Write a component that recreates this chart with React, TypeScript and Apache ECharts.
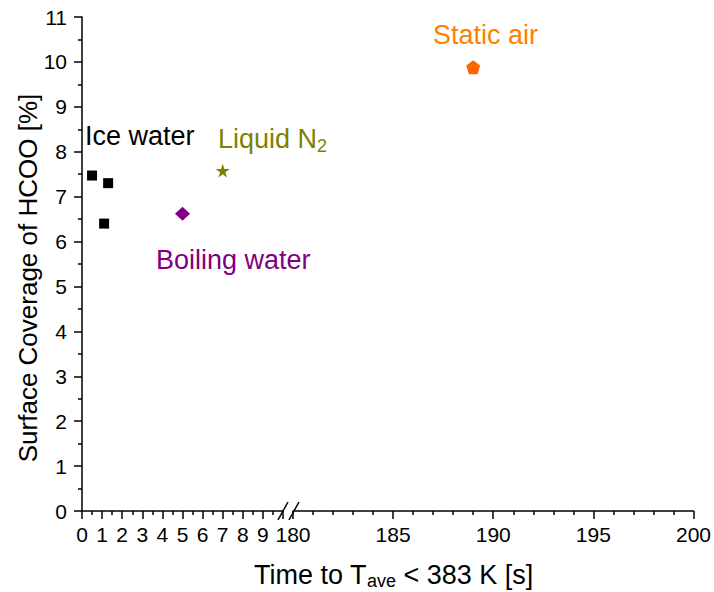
import React, { useEffect, useRef } from "react";
import * as echarts from "echarts";

// Data (x = time in s, y = surface coverage in %)
const iceWater: [number, number][] = [
  [0.5, 7.47],
  [1.3, 7.3],
  [1.1, 6.4],
];
const boilingWater: [number, number][] = [[5.0, 6.62]];
const liquidN2: [number, number][] = [[7.0, 7.58]];
const staticAir: [number, number][] = [[189.0, 9.88]];

const yTicks = [0, 1, 2, 3, 4, 5, 6, 7, 8, 9, 10, 11];
const xLeftRange = [0, 10];
const xRightRange = [180, 200];

const FONT = "Liberation Sans, Arial, sans-serif";
const STAR =
  "path://M50,0 L61,35 L98,35 L68,57 L79,91 L50,70 L21,91 L32,57 L2,35 L39,35 Z";
const PENTAGON = "path://M50,0 L100,38 L81,100 L19,100 L0,38 Z";

export default function App() {
  const ref = useRef<HTMLDivElement>(null);
  useEffect(() => {
    if (!ref.current) return;
    const chart = echarts.init(ref.current, undefined, { renderer: "svg" });
    const axisLine = { show: true, lineStyle: { color: "#000", width: 1.5 } };
    const axisTick = { show: true, length: 8, lineStyle: { color: "#000", width: 1.5 } };
    const minorTick = { show: true, length: 4, splitNumber: 2, lineStyle: { color: "#000", width: 1.5 } };
    const labelStyle = { color: "#000", fontSize: 21, fontFamily: FONT };
    chart.setOption({
      animation: false,
      backgroundColor: "#fff",
      grid: [
        { left: 82, top: 17, width: 201, bottom: 81 },
        { left: 293, top: 17, right: 19, bottom: 81 },
      ],
      xAxis: [
        {
          type: "value",
          gridIndex: 0,
          min: xLeftRange[0],
          max: xLeftRange[1],
          interval: 1,
          axisLine,
          axisTick,
          minorTick,
          splitLine: { show: false },
          axisLabel: {
            ...labelStyle,
            margin: 13,
            formatter: (v: number) => (v >= 10 ? "" : String(v)),
          },
        },
        {
          type: "value",
          gridIndex: 1,
          min: xRightRange[0],
          max: xRightRange[1],
          interval: 5,
          axisLine,
          axisTick,
          minorTick: { ...minorTick, splitNumber: 5 },
          splitLine: { show: false },
          axisLabel: { ...labelStyle, margin: 13 },
        },
      ],
      yAxis: [
        {
          type: "value",
          gridIndex: 0,
          min: yTicks[0],
          max: yTicks[yTicks.length - 1],
          interval: 1,
          axisLine,
          axisTick,
          minorTick,
          splitLine: { show: false },
          axisLabel: { ...labelStyle, margin: 15 },
        },
        {
          type: "value",
          gridIndex: 1,
          min: yTicks[0],
          max: yTicks[yTicks.length - 1],
          interval: 1,
          show: false,
        },
      ],
      series: [
        {
          type: "scatter",
          xAxisIndex: 0,
          yAxisIndex: 0,
          data: iceWater,
          symbol: "rect",
          symbolSize: 10,
          itemStyle: { color: "#000", opacity: 1 },
        },
        {
          type: "scatter",
          xAxisIndex: 0,
          yAxisIndex: 0,
          data: boilingWater,
          symbol: "diamond",
          symbolSize: [15, 14],
          itemStyle: { color: "#800080", opacity: 1 },
        },
        {
          type: "scatter",
          xAxisIndex: 0,
          yAxisIndex: 0,
          data: liquidN2,
          symbol: STAR,
          symbolSize: 14,
          itemStyle: { color: "#808000", opacity: 1 },
        },
        {
          type: "scatter",
          xAxisIndex: 1,
          yAxisIndex: 1,
          data: staticAir,
          symbol: PENTAGON,
          symbolSize: 14,
          itemStyle: { color: "#ff6600", opacity: 1 },
        },
      ],
      graphic: [
        // axis break marks
        { type: "line", shape: { x1: 278, y1: 520, x2: 288, y2: 502 }, style: { stroke: "#000", lineWidth: 1.5 } },
        { type: "line", shape: { x1: 289, y1: 520, x2: 299, y2: 502 }, style: { stroke: "#000", lineWidth: 1.5 } },
        {
          type: "text",
          x: 28,
          y: 278,
          rotation: Math.PI / 2,
          style: {
            text: "Surface Coverage of HCOO [%]",
            fill: "#000",
            font: `26px ${FONT}`,
            textAlign: "center",
            textVerticalAlign: "middle",
          },
        },
        {
          type: "text",
          x: 85,
          y: 136,
          style: { text: "Ice water", fill: "#000", font: `27px ${FONT}`, textVerticalAlign: "middle" },
        },
        {
          type: "text",
          x: 218,
          y: 139,
          style: {
            text: "Liquid N{sub|2}",
            fill: "#808000",
            font: `27px ${FONT}`,
            textVerticalAlign: "middle",
            rich: { sub: { fontSize: 18, fontFamily: FONT, fill: "#808000", padding: [14, 0, 0, 0] } },
          },
        },
        {
          type: "text",
          x: 156,
          y: 260,
          style: { text: "Boiling water", fill: "#800080", font: `27px ${FONT}`, textVerticalAlign: "middle" },
        },
        {
          type: "text",
          x: 433,
          y: 35,
          style: { text: "Static air", fill: "#ff8000", font: `27px ${FONT}`, textVerticalAlign: "middle" },
        },
        {
          type: "text",
          x: 254,
          y: 575,
          style: {
            text: "Time to T{sub|ave} < 383 K [s]",
            fill: "#000",
            font: `27px ${FONT}`,
            textVerticalAlign: "middle",
            rich: { sub: { fontSize: 18, fontFamily: FONT, fill: "#000", padding: [12, 0, 0, 0] } },
          },
        },
      ],
    });
    return () => chart.dispose();
  }, []);
  return (
    <div
      ref={ref}
      style={{ position: "absolute", left: 0, top: 0, width: 714, height: 592 }}
    />
  );
}
